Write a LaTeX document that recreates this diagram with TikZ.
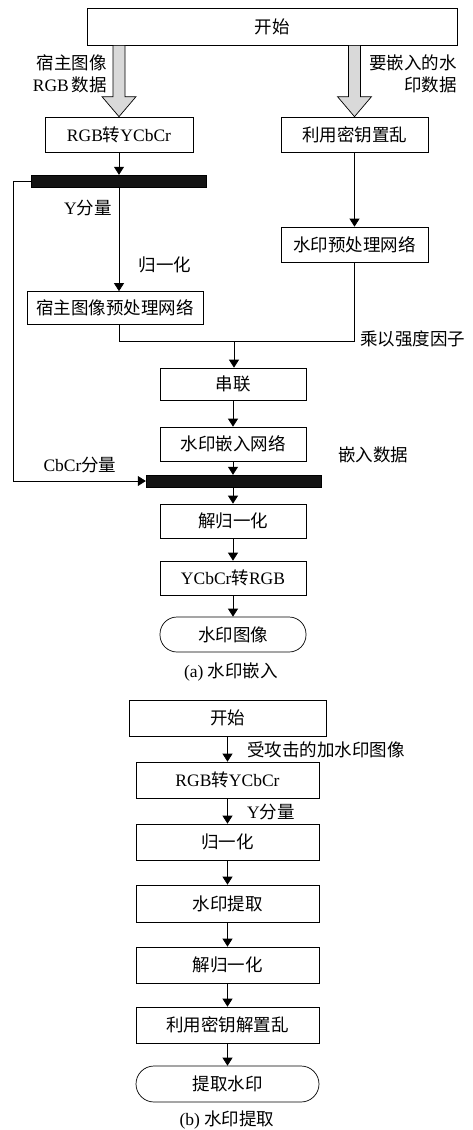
\documentclass[tikz,border=0pt]{standalone}
\usepackage{fontspec}
\setmainfont{Liberation Serif}
\newfontfamily\cjk{Noto Sans CJK SC}
\usetikzlibrary{arrows.meta,calc}
\newcommand\zh[1]{{\cjk #1}}
\begin{document}
\begin{tikzpicture}[x=1pt,y=-1pt,
  every node/.style={font=\fontsize{17.5}{22}\selectfont, inner sep=0pt},
  box/.style={draw, line width=0.7pt, rectangle, minimum height=35pt},
  term/.style={draw, line width=0.7pt, rectangle, rounded corners=17pt, minimum height=35pt},
  bar/.style={fill=black!92, draw=black, minimum height=12pt},
  arr/.style={line width=0.7pt, -{Triangle[length=8pt,width=10pt]}},
  ln/.style={line width=0.7pt},
  fat/.style={fill=gray!30, draw=black, line width=0.7pt},
  lbl/.style={}]
\useasboundingbox (0,0) rectangle (473,1130);
\fill[white] (0,0) rectangle (473,1130);
% part (a)
\node[box, minimum width=370pt, minimum height=37pt] (start) at (272,26.5) {\zh{开始}};
\node[box, minimum width=148pt] (rgb) at (119,134.5) {RGB\zh{转}YCbCr};
\node[box, minimum width=147pt] (scr) at (354.5,134.5) {\zh{利用密钥置乱}};
\node[bar, minimum width=175pt] (bar1) at (118.5,181) {};
\node[box, minimum width=147pt] (wpre) at (354.5,244.5) {\zh{水印预处理网络}};
\node[box, minimum width=176pt, minimum height=33pt] (hpre) at (115,308) {\zh{宿主图像预处理网络}};
\coordinate (m) at (234,341);
\node[box, minimum width=146pt, minimum height=32pt] (concat) at (233,384) {\zh{串联}};
\node[box, minimum width=146pt, minimum height=34pt] (embed) at (233,444) {\zh{水印嵌入网络}};
\node[bar, minimum width=175pt] (bar2) at (233.5,481) {};
\node[box, minimum width=146pt, minimum height=34pt] (denorm) at (233,521) {\zh{解归一化}};
\node[box, minimum width=146pt, minimum height=34pt] (ycc) at (233,578) {YCbCr\zh{转}RGB};
\node[term, minimum width=146pt] (wimg) at (233,634.5) {\zh{水印图像}};
\node (capa) at (231,672) {(a) \zh{水印嵌入}};
% fat arrows
\path let \p1=(start.south -| rgb.north), \p2=(rgb.north) in
  [fat] (\x1-6pt,\y1) -- (\x1-6pt,\y2+20pt) -- (\x1-17pt,\y2+20pt) -- (\x2,\y2)
  -- (\x1+17pt,\y2+20pt) -- (\x1+6pt,\y2+20pt) -- (\x1+6pt,\y1) -- cycle;
\path let \p1=(start.south -| scr.north), \p2=(scr.north) in
  [fat] (\x1-6pt,\y1) -- (\x1-6pt,\y2+20pt) -- (\x1-17pt,\y2+20pt) -- (\x2,\y2)
  -- (\x1+17pt,\y2+20pt) -- (\x1+6pt,\y2+20pt) -- (\x1+6pt,\y1) -- cycle;
% labels (a)
\node[anchor=east, align=right] (l1) at (107,74) {\zh{宿主图像}\\RGB\,\zh{数据}};
\node[anchor=east, align=right] (l2) at (457,74) {\zh{要嵌入的水}\\\zh{印数据}};
\node (l3) at (88,208) {Y\zh{分量}};
\node (l4) at (165,265) {\zh{归一化}};
\node[anchor=west] (l5) at (360,339) {\zh{乘以强度因子}};
\node[anchor=west] (l6) at (338,455) {\zh{嵌入数据}};
\node (l7) at (80,465) {CbCr\zh{分量}};
% connectors (a)
\draw[arr] (rgb.south) -- (rgb.south |- bar1.north);
\draw[arr] (bar1.south -| rgb.south) -- (hpre.north -| rgb.south);
\draw[arr] (scr.south) -- (wpre.north);
\draw[ln] (hpre.south -| rgb.south) |- (m);
\draw[ln] (wpre.south) |- (m);
\draw[arr] (m) -- (m |- concat.north);
\draw[arr] (concat.south) -- (embed.north);
\draw[arr] (embed.south) -- (embed.south |- bar2.north);
\draw[arr] (bar2.south -| denorm.north) -- (denorm.north);
\draw[arr] (denorm.south) -- (ycc.north);
\draw[arr] (ycc.south) -- (wimg.north);
\draw[arr] (bar1.west) -- ++(-17,0) |- (bar2.west);
% part (b)
\node[box, minimum width=197pt, minimum height=36pt] (start2) at (227.5,718) {\zh{开始}};
\node[box, minimum width=183pt, minimum height=36pt] (rgb2) at (227.5,780) {RGB\zh{转}YCbCr};
\node[box, minimum width=183pt, minimum height=36pt] (norm2) at (227.5,842) {\zh{归一化}};
\node[box, minimum width=183pt, minimum height=37pt] (extr) at (227.5,903.5) {\zh{水印提取}};
\node[box, minimum width=183pt, minimum height=36pt] (denorm2) at (227.5,965) {\zh{解归一化}};
\node[box, minimum width=183pt, minimum height=36pt] (unscr) at (227.5,1025) {\zh{利用密钥解置乱}};
\node[term, minimum width=183pt, minimum height=36pt, rounded corners=18pt] (ext) at (227.5,1084) {\zh{提取水印}};
\node (capb) at (227,1120) {(b) \zh{水印提取}};
\node[anchor=west] (l8) at (247,750) {\zh{受攻击的加水印图像}};
\node[anchor=west] (l9) at (247,812) {Y\zh{分量}};
\draw[arr] (start2.south) -- (rgb2.north);
\draw[arr] (rgb2.south) -- (norm2.north);
\draw[arr] (norm2.south) -- (extr.north);
\draw[arr] (extr.south) -- (denorm2.north);
\draw[arr] (denorm2.south) -- (unscr.north);
\draw[arr] (unscr.south) -- (ext.north);
\end{tikzpicture}
\end{document}
